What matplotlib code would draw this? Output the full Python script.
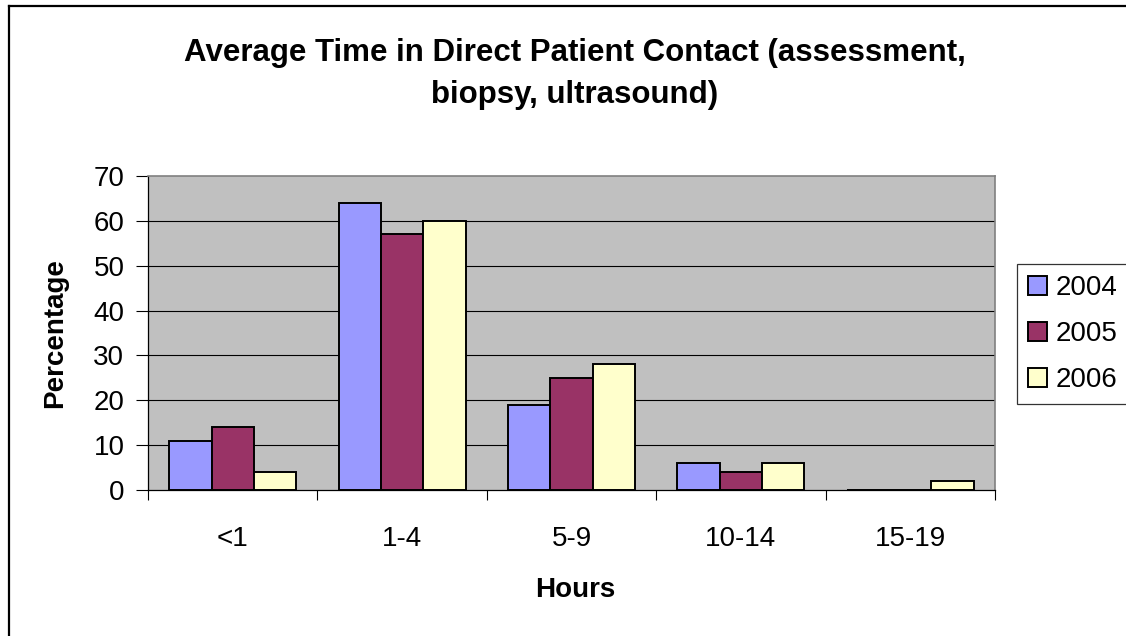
"""Bar chart: average time in direct patient contact, by hours band and year."""

import matplotlib
matplotlib.use("Agg")
import matplotlib.pyplot as plt
from matplotlib.lines import Line2D
import numpy as np

plt.rcParams["font.family"] = ["Liberation Sans", "DejaVu Sans"]

categories = ["<1", "1-4", "5-9", "10-14", "15-19"]
years = ["2004", "2005", "2006"]
pct_2004 = [11, 64, 19, 6, 0]
pct_2005 = [14, 57, 25, 4, 0]
pct_2006 = [4, 60, 28, 6, 2]
yticks = [0, 10, 20, 30, 40, 50, 60, 70]

colors = ["#9999FF", "#993366", "#FFFFCC"]

W, H = 1126, 636
fig = plt.figure(figsize=(W / 100, H / 100), dpi=100)
ax = fig.add_axes([148 / W, 1 - 490 / H, (995 - 148) / W, (490 - 176) / H])
ax.set_facecolor("#C0C0C0")

x = np.arange(len(categories)) + 0.5
bw = 0.25
handles = []
for i, (vals, c) in enumerate(zip([pct_2004, pct_2005, pct_2006], colors)):
    b = ax.bar(x + (i - 1) * bw, vals, width=bw, color=c, edgecolor="black",
               linewidth=1.4, zorder=3)
    handles.append(b)

ax.set_xlim(0, len(categories))
ax.set_ylim(0, 70)
ax.set_yticks(yticks)
ax.set_yticklabels([str(t) for t in yticks], fontsize=20)
for t in yticks[1:-1]:
    ax.axhline(t, color="black", lw=0.8, zorder=1)

ax.set_xticks(np.arange(len(categories) + 1))
ax.set_xticklabels([])
ax.set_xticks(x, minor=True)
ax.set_xticklabels(categories, minor=True, fontsize=20)
ax.tick_params(axis="x", which="major", length=7, width=0.8, direction="out")
ax.tick_params(axis="x", which="minor", length=0, pad=26)
ax.tick_params(axis="y", length=9, width=0.8, direction="out", pad=8)

for s in ["left", "bottom"]:
    ax.spines[s].set_color("black")
    ax.spines[s].set_linewidth(0.9)
for s in ["top", "right"]:
    ax.spines[s].set_color("#808080")
    ax.spines[s].set_linewidth(1.2)

fig.text(575 / W, 1 - 74 / H,
         "Average Time in Direct Patient Contact (assessment,\nbiopsy, ultrasound)",
         ha="center", va="center", fontsize=22.5, fontweight="bold", linespacing=1.5)
fig.text(575 / W, 1 - 590 / H, "Hours", ha="center", va="center",
         fontsize=20, fontweight="bold")
fig.text(55 / W, 1 - 333 / H, "Percentage", ha="center", va="center",
         rotation=90, fontsize=20, fontweight="bold")

leg = fig.legend(handles, years, loc="upper left",
                 bbox_to_anchor=(1017 / W, 1 - 264 / H), fontsize=20,
                 frameon=True, fancybox=False, borderaxespad=0,
                 handlelength=0.68, handleheight=0.68, handletextpad=0.3,
                 labelspacing=0.72, borderpad=0.4)
leg.get_frame().set_edgecolor("black")
leg.get_frame().set_linewidth(0.9)

# chart-area border (only left and top edges are inside the picture)
fig.add_artist(Line2D([8.5 / W, 8.5 / W], [0, 1 - 5.5 / H], color="black",
                      lw=1.6, transform=fig.transFigure))
fig.add_artist(Line2D([8.5 / W, 1], [1 - 5.5 / H, 1 - 5.5 / H], color="black",
                      lw=1.6, transform=fig.transFigure))

fig.savefig("out.png", dpi=100)
